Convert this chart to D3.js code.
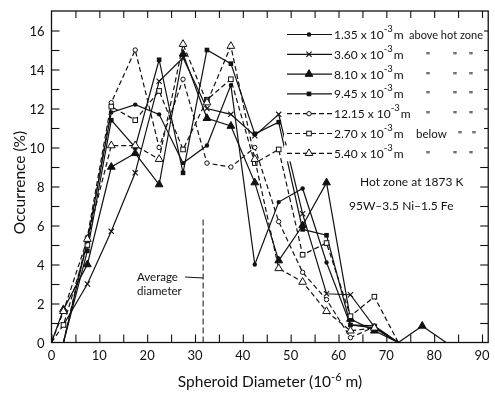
<!DOCTYPE html>
<html>
<head>
<meta charset="utf-8">
<script src="https://cdn.jsdelivr.net/npm/d3@7"></script>
<style>
  body { margin: 0; background: #fff; }
  svg { filter: grayscale(1); }
  text { font-family: Lato, "DejaVu Sans", sans-serif; fill: #111; }
</style>
</head>
<body>
<div id="chart"></div>
<script>
// Durchmesser-Klassen (Mitte), 10^-6 m
const diameters = [0, 2.5, 7.5, 12.5, 17.5, 22.5, 27.5, 32.5, 37.5, 42.5, 47.5, 52.5, 57.5, 62.5, 67.5, 72.5, 77.5, 82.5];

// Häufigkeit in %, null = kein Punkt
const s135 = [null, 0, 5.2, 11.8, 12.2, 11.7, 9.2, 10.1, 13.2, 4.0, 7.2, 7.9, 4.1, 0.9, 0.75, 0, null, null];
const s360 = [null, 0.9, 3.0, 5.7, 8.7, 13.4, 14.6, 12.0, 11.7, 10.6, 11.7, 6.6, 2.5, 2.45, 0.8, 0, null, null];
const s810 = [0, 1.7, 4.0, 9.0, 9.7, 8.1, 14.8, 11.5, 11.1, 8.2, 4.2, 6.0, 8.2, 1.2, 0.6, 0, 0.85, 0];
const s945 = [null, 0, 4.7, 11.4, 10.0, 14.5, 8.7, 15.0, 14.3, 10.7, 11.3, 5.8, 5.5, 0.9, 0.85, 0, null, null];
const s1215 = [null, 0, 5.4, 12.3, 15.0, 10.0, 13.5, 9.2, 9.0, 10.0, 6.2, 3.6, 2.2, 0.25, 0.8, 0, null, null];
const s270 = [0, 0.9, 5.0, 12.1, 11.4, 12.9, 9.9, 12.45, 13.5, 9.2, 9.9, 4.5, 5.1, 1.35, 2.35, 0, null, null];
const s540 = [0, 1.6, 5.3, 10.1, 10.1, 9.4, 15.3, 12.3, 15.2, 9.4, 3.8, 3.1, 1.6, 0.6, 0.75, 0, null, null];

const legendNums = ["1.35", "3.60", "8.10", "9.45", "12.15", "2.70", "5.40"];
const legendTails = ["above hot zone", "", "", "", "", "below", ""];
const xTicks = [0, 10, 20, 30, 40, 50, 60, 70, 80, 90];
const yTicks = [0, 2, 4, 6, 8, 10, 12, 14, 16];
const avgDiameter = 31.7;

const series = [
  { values: s135, marker: "dot", dash: null },
  { values: s360, marker: "x", dash: null },
  { values: s810, marker: "tri", dash: null },
  { values: s945, marker: "sq", dash: null },
  { values: s1215, marker: "circle", dash: "5,3" },
  { values: s270, marker: "square", dash: "5,3" },
  { values: s540, marker: "otri", dash: "5,3" }
];

const width = 495, height = 393;
const xScale = d3.scaleLinear().domain([0, 90]).range([51.5, 482]);
const yScale = d3.scaleLinear().domain([0, 17]).range([342.5, 11]);
const xRight = xScale(91.3);

const svg = d3.select("#chart").append("svg")
  .attr("width", width).attr("height", height);

// Rahmen
svg.append("rect")
  .attr("x", xScale(0)).attr("y", yScale(17))
  .attr("width", xRight - xScale(0)).attr("height", yScale(0) - yScale(17))
  .attr("fill", "none").attr("stroke", "#111").attr("stroke-width", 1.3);

// Achsen mit nach innen zeigenden Ticks
const bottomAxis = d3.axisBottom(xScale).tickValues(d3.range(0, 95, 5)).tickSize(-8).tickSizeOuter(0).tickFormat("");
svg.append("g").attr("transform", `translate(0,${yScale(0)})`).call(bottomAxis);
const topAxis = d3.axisTop(xScale).tickValues(d3.range(5, 95, 5)).tickSize(-7).tickSizeOuter(0).tickFormat("");
svg.append("g").attr("transform", `translate(0,${yScale(17)})`).call(topAxis);
const leftAxis = d3.axisLeft(yScale).tickValues(d3.range(1, 17, 1)).tickSize(-8).tickSizeOuter(0).tickFormat("");
svg.append("g").attr("transform", `translate(${xScale(0)},0)`).call(leftAxis);
const rightAxis = d3.axisRight(yScale).tickValues(d3.range(1, 17, 1)).tickSize(-8).tickSizeOuter(0).tickFormat("");
svg.append("g").attr("transform", `translate(${xRight},0)`).call(rightAxis);
svg.selectAll(".domain").remove();
svg.selectAll(".tick line").attr("stroke", "#111").attr("stroke-width", 1.1);

// Tick-Beschriftungen
svg.append("g").selectAll("text").data(xTicks).join("text")
  .attr("x", d => xScale(d)).attr("y", yScale(0) + 17)
  .attr("text-anchor", "middle").attr("font-size", 13).text(d => d);
svg.append("g").selectAll("text").data(yTicks).join("text")
  .attr("x", xScale(0) - 7).attr("y", d => yScale(d) + 5)
  .attr("text-anchor", "end").attr("font-size", 13).text(d => d);

// Achsentitel
const xt = svg.append("text").attr("x", 270).attr("y", 387)
  .attr("text-anchor", "middle").attr("font-size", 15.5);
xt.append("tspan").text("Spheroid Diameter (10");
xt.append("tspan").attr("dy", -6).attr("font-size", 11).text("-6");
xt.append("tspan").attr("dy", 6).text(" m)");

svg.append("text").attr("transform", `translate(25,${yScale(8.2)}) rotate(-90)`)
  .attr("text-anchor", "middle").attr("font-size", 15.5).text("Occurrence (%)");

// Mittlerer Durchmesser
svg.append("line")
  .attr("x1", xScale(avgDiameter)).attr("x2", xScale(avgDiameter))
  .attr("y1", yScale(0)).attr("y2", yScale(6.4))
  .attr("stroke", "#111").attr("stroke-width", 1).attr("stroke-dasharray", "6,3");
svg.append("line")
  .attr("x1", 185).attr("x2", xScale(avgDiameter)).attr("y1", 277).attr("y2", 278)
  .attr("stroke", "#111").attr("stroke-width", 1);
svg.append("text").attr("x", 137).attr("y", 281).attr("font-size", 11.5).text("Average");
svg.append("text").attr("x", 137).attr("y", 295).attr("font-size", 11.5).text("diameter");

// Linien
const lineGen = d3.line()
  .defined(d => d.v !== null)
  .x(d => xScale(d.x)).y(d => yScale(d.v));

const markerDraw = (g, type, x, y) => {
  const s = 2.6;
  if (type === "dot") {
    g.append("circle").attr("cx", x).attr("cy", y).attr("r", 2.2).attr("fill", "#111");
  } else if (type === "circle") {
    g.append("circle").attr("cx", x).attr("cy", y).attr("r", 2.2).attr("fill", "#fff").attr("stroke", "#111").attr("stroke-width", 1);
  } else if (type === "sq") {
    g.append("rect").attr("x", x - 2.3).attr("y", y - 2.3).attr("width", 4.6).attr("height", 4.6).attr("fill", "#111");
  } else if (type === "square") {
    g.append("rect").attr("x", x - 2.3).attr("y", y - 2.3).attr("width", 4.6).attr("height", 4.6).attr("fill", "#fff").attr("stroke", "#111").attr("stroke-width", 1);
  } else if (type === "tri" || type === "otri") {
    g.append("path").attr("d", d3.symbol(d3.symbolTriangle, 26)()).attr("transform", `translate(${x},${y})`)
      .attr("fill", type === "tri" ? "#111" : "#fff").attr("stroke", "#111").attr("stroke-width", 1);
  } else if (type === "x") {
    g.append("path").attr("d", `M${x - s},${y - s}L${x + s},${y + s}M${x - s},${y + s}L${x + s},${y - s}`)
      .attr("stroke", "#111").attr("stroke-width", 1.1);
  }
};

series.forEach(s => {
  const pts = diameters.map((x, i) => ({ x: x, v: s.values[i] }));
  svg.append("path").datum(pts).attr("d", lineGen)
    .attr("fill", "none").attr("stroke", "#111").attr("stroke-width", 1.2)
    .attr("stroke-dasharray", s.dash);
  const g = svg.append("g");
  pts.filter(p => p.v !== null && p.v > 0.1 && p.x > 0).forEach(p => markerDraw(g, s.marker, xScale(p.x), yScale(p.v)));
});

// Legende
const leg = svg.append("g");
series.forEach((s, i) => {
  const y = 34.5 + i * 19.8;
  leg.append("rect").attr("x", 284).attr("y", y - 8).attr("width", 200).attr("height", 16).attr("fill", "#fff");
  leg.append("line").attr("x1", 287).attr("x2", 332).attr("y1", y).attr("y2", y)
    .attr("stroke", "#111").attr("stroke-width", 1.2).attr("stroke-dasharray", s.dash);
  markerDraw(leg, s.marker, 309, y);
  const t = leg.append("text").attr("x", 334).attr("y", y + 4.5).attr("font-size", 12);
  t.append("tspan").text(legendNums[i] + " x 10");
  t.append("tspan").attr("dy", -7).attr("font-size", 9.5).text("-3");
  t.append("tspan").attr("dy", 7).attr("dx", 1).text("m");
  if (legendTails[i]) {
    leg.append("text").attr("x", i === 0 ? 409 : 416).attr("y", y + 4.5)
      .attr("font-size", i === 0 ? 11 : 11.5).text(legendTails[i]);
  }
  // Wiederholungszeichen
  const dittoX = i === 0 ? [] : (i === 5 ? [460, 474] : [428, 455, 471]);
  dittoX.forEach(dx => leg.append("text").attr("x", dx).attr("y", y + 4.5)
    .attr("font-size", 10).attr("font-weight", "bold").attr("text-anchor", "middle")
    .text("\""));
});

svg.append("text").attr("x", 360).attr("y", 186).attr("font-size", 12).text("Hot zone at 1873 K");
svg.append("text").attr("x", 349).attr("y", 210).attr("font-size", 12).text("95W\u20133.5 Ni\u20131.5 Fe");
</script>
</body>
</html>
